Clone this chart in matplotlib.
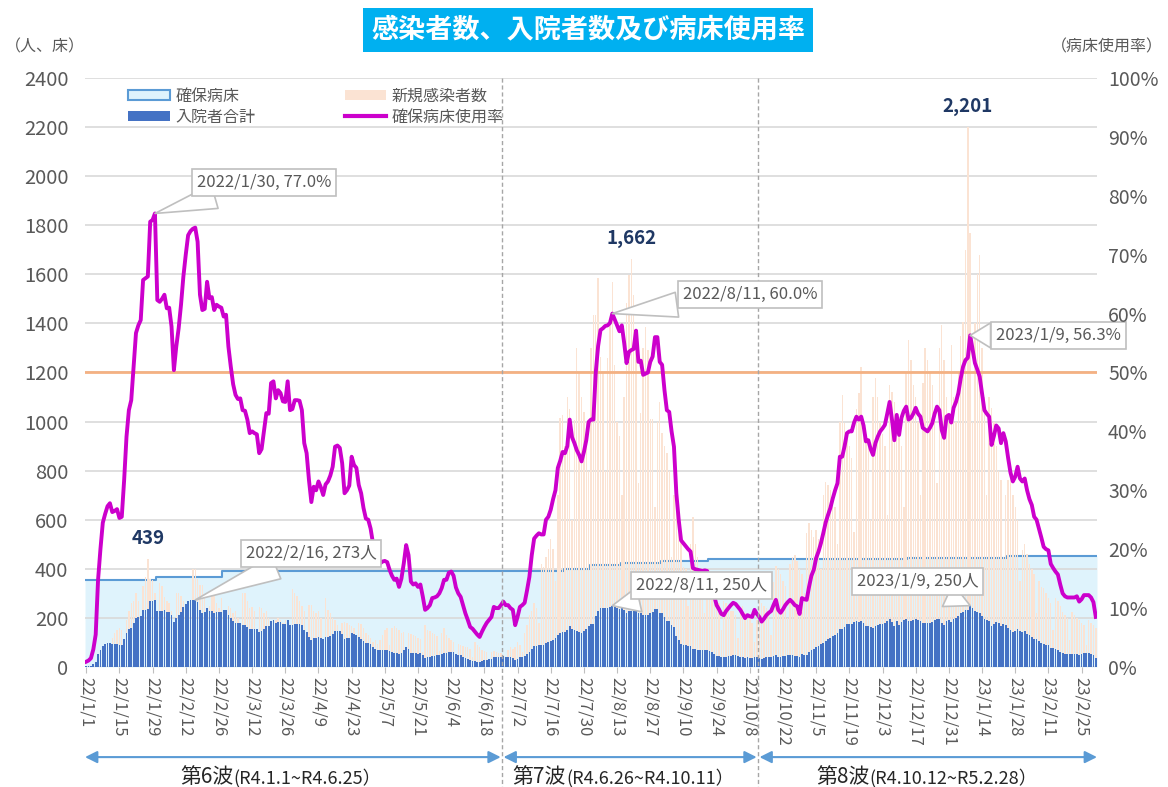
import numpy as np
import pandas as pd
import matplotlib
matplotlib.use("Agg")
import matplotlib.pyplot as plt
from matplotlib.patches import Patch
from matplotlib.lines import Line2D

plt.rcParams['font.family'] = ['Noto Sans CJK JP', 'DejaVu Sans']

START = "2022-01-01"

# 新規感染者数 (one row per week, Sat..Fri)
new_cases = [
    3, 2, 1, 5, 10, 20, 30,
    45, 40, 25, 80, 117, 140, 150,
    160, 151, 90, 190, 230, 260, 270,
    300, 270, 170, 330, 368, 439, 360,
    355, 300, 190, 341, 330, 287, 270,
    260, 230, 160, 300, 300, 290, 270,
    240, 220, 150, 398, 398, 360, 334,
    334, 290, 170, 250, 300, 290, 260,
    240, 280, 140, 230, 250, 240, 220,
    230, 200, 120, 300, 300, 270, 240,
    246, 230, 110, 246, 240, 220, 230,
    200, 180, 100, 191, 200, 190, 180,
    190, 180, 110, 316, 300, 290, 270,
    250, 230, 130, 252, 252, 230, 220,
    230, 200, 110, 280, 232, 220, 200,
    190, 170, 90, 180, 185, 180, 170,
    165, 160, 85, 181, 175, 160, 140,
    130, 120, 100, 110, 95, 110, 130,
    150, 160, 90, 160, 165, 160, 150,
    140, 144, 75, 140, 135, 130, 125,
    120, 115, 60, 171, 150, 145, 140,
    135, 125, 65, 140, 158, 130, 120,
    110, 100, 50, 95, 90, 85, 80,
    80, 75, 40, 103, 90, 80, 70,
    65, 60, 30, 60, 65, 60, 55,
    55, 50, 30, 70, 80, 75, 80,
    100, 90, 60, 137, 170, 212, 230,
    260, 240, 180, 420, 409, 450, 480,
    520, 480, 350, 700, 1013, 1027, 900,
    1100, 1050, 600, 1006, 1298, 1200, 1100,
    1040, 1000, 800, 1300, 1434, 1434, 1583,
    1264, 1200, 800, 1257, 1400, 1570, 1230,
    1000, 940, 700, 1100, 1482, 1597, 1662,
    1515, 1291, 750, 1033, 1300, 1387, 1291,
    1010, 1010, 650, 1000, 1081, 952, 900,
    870, 800, 450, 700, 680, 600, 545,
    409, 400, 250, 500, 612, 500, 450,
    395, 350, 220, 300, 341, 330, 300,
    280, 260, 150, 270, 260, 250, 230,
    230, 210, 120, 240, 250, 220, 200,
    200, 180, 100, 190, 273, 260, 250,
    240, 220, 130, 348, 410, 400, 380,
    350, 330, 200, 420, 450, 456, 430,
    400, 380, 300, 545, 585, 560, 531,
    560, 520, 400, 700, 755, 740, 720,
    700, 650, 500, 1000, 1108, 994, 950,
    900, 850, 550, 1050, 1117, 1224, 1000,
    950, 900, 600, 1100, 1177, 1100, 1000,
    950, 900, 620, 1150, 1122, 1080, 1000,
    950, 900, 650, 1200, 1332, 1250, 1150,
    1100, 1000, 700, 1157, 1299, 1250, 1200,
    1150, 1050, 750, 1300, 1393, 1250, 1100,
    1000, 1312, 1100, 1000, 1200, 1350, 1407,
    1700, 2201, 1768, 1000, 1400, 1600, 1678,
    1300, 1100, 700, 1100, 1055, 1000, 900,
    800, 762, 450, 700, 760, 782, 700,
    650, 600, 350, 477, 500, 460, 420,
    400, 380, 220, 350, 326, 320, 300,
    280, 260, 150, 280, 270, 250, 224,
    210, 200, 110, 224, 210, 200, 190,
    180, 170, 90, 190, 180, 170, 160,
]

# 確保病床使用率 (%)
bed_rate = [
    0.9, 1.1, 1.5, 3.0, 5.5, 14.8, 20.0,
    24.5, 26.0, 27.3, 27.8, 26.3, 26.5, 26.8,
    25.3, 25.5, 31.7, 39.1, 43.6, 45.3, 51.0,
    56.7, 58.0, 58.9, 65.7, 66.0, 66.3, 75.6,
    75.9, 77.0, 62.3, 62.0, 62.5, 63.2, 60.9,
    61.0, 57.8, 50.4, 54.4, 57.5, 61.5, 66.3,
    70.0, 73.3, 74.0, 74.4, 74.6, 72.2, 63.2,
    60.6, 60.8, 65.4, 62.6, 62.8, 60.6, 61.5,
    61.2, 61.0, 59.5, 59.8, 54.4, 51.0, 48.0,
    46.2, 45.5, 45.6, 43.6, 43.5, 42.0, 39.7,
    40.0, 39.7, 39.5, 36.3, 37.0, 40.0, 43.1,
    43.0, 48.2, 48.5, 45.6, 47.0, 46.5, 45.1,
    45.0, 48.5, 43.6, 43.8, 45.3, 45.3, 45.2,
    43.6, 38.0, 36.3, 31.7, 28.0, 30.6, 30.0,
    31.5, 30.5, 29.2, 31.0, 31.5, 32.5, 34.0,
    37.4, 37.6, 37.2, 34.6, 29.5, 30.0, 30.8,
    35.7, 34.3, 33.8, 30.9, 29.5, 27.0, 25.2,
    25.0, 23.5, 21.0, 18.5, 17.6, 17.6, 17.9,
    18.0, 17.8, 16.5, 15.5, 14.8, 15.0, 13.6,
    15.0, 17.6, 20.7, 19.0, 14.5, 14.0, 14.2,
    13.6, 14.0, 12.0, 9.7, 10.0, 10.5, 11.7,
    11.8, 12.0, 12.5, 13.4, 14.8, 14.8, 16.0,
    16.2, 15.5, 13.5, 12.5, 11.9, 10.5, 9.1,
    8.0, 6.8, 6.5, 6.0, 5.5, 5.1, 6.0,
    6.8, 7.5, 8.0, 8.5, 10.2, 10.0, 10.0,
    10.5, 11.1, 10.5, 10.5, 10.0, 9.7, 7.1,
    8.5, 10.2, 10.5, 10.9, 13.0, 15.3, 19.0,
    21.8, 22.3, 22.7, 22.5, 22.5, 25.0, 25.5,
    26.7, 28.5, 30.0, 33.8, 35.0, 36.5, 36.3,
    37.5, 42.0, 39.0, 38.0, 36.8, 36.0, 34.9,
    36.5, 38.5, 41.6, 42.0, 42.0, 50.0, 54.5,
    57.2, 57.5, 57.9, 58.0, 58.4, 60.0, 59.0,
    58.0, 57.0, 58.0, 55.0, 51.6, 53.5, 53.8,
    54.0, 57.1, 51.8, 52.0, 49.6, 49.8, 50.0,
    51.8, 52.7, 56.0, 56.0, 51.8, 51.3, 47.0,
    43.6, 43.3, 40.0, 37.4, 29.5, 25.0, 21.5,
    21.0, 20.5, 20.0, 19.6, 16.8, 16.6, 16.5,
    16.4, 16.3, 16.4, 16.3, 15.0, 13.6, 12.0,
    10.5, 9.8, 9.0, 8.8, 9.5, 10.0, 10.5,
    10.9, 10.7, 10.2, 9.7, 9.0, 8.3, 8.8,
    8.6, 8.5, 9.7, 9.0, 8.5, 7.7, 8.2,
    8.8, 9.2, 9.5, 10.5, 11.4, 9.7, 9.2,
    9.8, 10.5, 11.0, 11.4, 11.0, 10.5, 10.3,
    9.0, 11.7, 11.5, 11.4, 13.6, 15.5, 16.5,
    18.5, 19.6, 21.0, 22.7, 24.5, 25.8, 27.0,
    28.6, 30.0, 31.2, 35.7, 35.7, 37.5, 39.7,
    40.0, 40.0, 41.5, 42.5, 42.0, 42.5, 41.0,
    38.3, 38.5, 37.0, 36.0, 38.0, 39.1, 40.0,
    40.5, 41.1, 43.0, 45.0, 42.0, 38.5, 42.8,
    39.4, 42.3, 43.5, 44.2, 42.0, 42.3, 43.0,
    44.0, 43.0, 42.5, 40.6, 40.3, 40.0, 40.6,
    41.4, 43.0, 44.2, 43.6, 40.2, 38.9, 42.5,
    42.8, 41.5, 44.0, 45.0, 46.5, 49.0, 51.0,
    52.1, 52.5, 56.3, 54.0, 51.6, 50.5, 49.3,
    46.5, 43.6, 43.0, 42.5, 37.7, 39.2, 41.0,
    40.5, 38.0, 39.7, 38.3, 35.5, 33.0, 31.5,
    32.3, 34.0, 32.0, 31.5, 32.0, 30.0, 28.5,
    27.5, 25.5, 25.0, 23.5, 22.0, 20.4, 20.0,
    19.8, 17.5, 16.8, 16.2, 15.7, 14.0, 12.5,
    12.0, 11.8, 11.8, 11.8, 11.8, 12.0, 11.1,
    11.5, 12.2, 12.2, 12.2, 11.8, 11.0, 8.5,
]

# 確保病床 (changes)
bed_change_dates = ["2022-01-01", "2022-01-31", "2022-02-28", "2022-07-22", "2022-08-02",
                    "2022-08-15", "2022-09-01", "2022-09-21", "2022-12-14", "2023-01-25"]
bed_counts = [354, 366, 391, 398, 417, 424, 433, 438, 444, 452]

wave_names = ["第6波", "第7波", "第8波"]
wave_periods = ["(R4.1.1~R4.6.25）", "(R4.6.26~R4.10.11）", "(R4.10.12~R5.2.28）"]
wave_last_days = ["2022-06-25", "2022-10-11"]

callout_dates = ["2022-01-30", "2022-02-16", "2022-08-11", "2022-08-11", "2023-01-09", "2023-01-09"]
callout_kind = ["rate", "inp", "rate", "inp", "rate", "inp"]

# ---- derived series ----
N = len(new_cases)
assert len(bed_rate) == N
dates = pd.date_range(START, periods=N, freq="D")
days = np.arange(N)
beds = pd.Series(np.nan, index=dates)
beds[pd.to_datetime(bed_change_dates)] = bed_counts
beds = beds.ffill().to_numpy()
rate = np.array(bed_rate)
inpatients = np.round(rate * beds / 100)
cases = np.array(new_cases)

def day_of(s):
    return (pd.Timestamp(s) - dates[0]).days

GRAY = '#595959'
fig = plt.figure(figsize=(11.68, 7.87), dpi=100)
ax = fig.add_axes([0.0728, 0.1525, 0.8664, 0.7484])
ax.set_xlim(-0.5, N - 0.5)
ax.set_ylim(0, 2400)

# bed area (line drawn under the case bars, as in the source)
xe = np.arange(N + 1) - 0.5
ye = np.r_[beds, beds[-1]]
ax.fill_between(xe, ye, step='post', color='#DFF3FC', lw=0, zorder=1)
for v in range(0, 2401, 200):
    ax.axhline(v, color='#D9D9D9', lw=1.2, zorder=1.5)
ax.step(xe, ye, where='post', color='#5B9BD5', lw=1.5, zorder=1.8)
ax.bar(days, cases, width=0.6, color='#FBE3D3', zorder=2)
ax.bar(days, inpatients, width=0.75, color='#4472C4', zorder=3)
ax.axhline(1200, color='#F4B183', lw=2, zorder=3.5)
ax.plot(days, rate * 24, color='#CC00CC', lw=2.8, zorder=4, solid_joinstyle='round')

# wave boundaries
bounds = [day_of(d) + 0.5 for d in wave_last_days]
for b in bounds:
    ax.plot([b, b], [1.0, -0.205], transform=ax.get_xaxis_transform(), clip_on=False,
            color='#A6A6A6', lw=1, ls=(0, (3, 2)), zorder=4.5)

# axes styling
for sp in ax.spines.values():
    sp.set_visible(False)
ax.set_yticks(range(0, 2401, 200))
ax.tick_params(axis='y', length=0, labelsize=14.5, labelcolor=GRAY, pad=12)
ticks = list(range(0, N, 14))
ax.set_xticks(ticks)
ax.set_xticklabels([f"{dates[t].year % 100}/{dates[t].month}/{dates[t].day}" for t in ticks],
                   rotation=270, fontsize=12, color=GRAY)
ax.tick_params(axis='x', length=4, color='#BFBFBF', pad=3)

ax2 = ax.twinx()
ax2.set_ylim(0, 100)
ax2.set_yticks(range(0, 101, 10))
ax2.set_yticklabels([f"{v}%" for v in range(0, 101, 10)])
ax2.tick_params(axis='y', length=0, labelsize=14, labelcolor=GRAY, pad=8)
for sp in ax2.spines.values():
    sp.set_visible(False)

# legend
handles = [
    Patch(facecolor='#DFF3FC', edgecolor='#5B9BD5', lw=1.5, label='確保病床'),
    Patch(facecolor='#4472C4', label='入院者合計'),
    Patch(facecolor='#FBE3D3', label='新規感染者数'),
    Line2D([], [], color='#CC00CC', lw=3, label='確保病床使用率'),
]
ax.legend(handles=handles, ncol=2, loc='upper left', bbox_to_anchor=(0.033, 1.0), frameon=False,
          fontsize=11.5, labelcolor=GRAY, handlelength=2.6, handleheight=0.55, handletextpad=0.35,
          columnspacing=5.6, labelspacing=0.25, borderaxespad=0.2)

# peak labels per wave
seg_edges = [0] + [int(np.ceil(b)) for b in bounds] + [N]
for a, b in zip(seg_edges[:-1], seg_edges[1:]):
    i = a + int(np.argmax(cases[a:b]))
    ax.annotate(f"{cases[i]:,}", xy=(i, cases[i]), xytext=(0, 8), textcoords='offset points',
                ha='center', va='bottom', fontsize=13.5, fontweight='bold', color='#1F3864', zorder=6)

# callouts
box_pos = [(75, 1975), (94.8, 464), (280, 1517), (259.7, 332), (410.3, 1351), (350.7, 350)]
for d, kind, pos in zip(callout_dates, callout_kind, box_pos):
    t = pd.Timestamp(d)
    i = day_of(d)
    if kind == "rate":
        txt = f"{t.year}/{t.month}/{t.day}, {rate[i]:.1f}%"
        yv = rate[i] * 24
    else:
        txt = f"{t.year}/{t.month}/{t.day}, {int(inpatients[i])}人"
        yv = inpatients[i]
    ax.annotate(txt, xy=(i, yv), xytext=pos, ha='center', va='center', fontsize=12, color=GRAY,
                bbox=dict(boxstyle='square,pad=0.3', fc='white', ec='#BFBFBF', lw=1.2),
                arrowprops=dict(arrowstyle='wedge,tail_width=0.9', fc='white', ec='#BFBFBF',
                                lw=1.2, shrinkA=0, shrinkB=0, mutation_scale=20),
                zorder=7)

# wave arrows and labels
spans = [(-0.5, bounds[0] - 0.6), (bounds[0] + 0.6, bounds[1] - 0.6), (bounds[1] + 0.6, N - 0.5)]
split_x = [62.0, 202.5, 330.5]
for (s, e), name, per, sx in zip(spans, wave_names, wave_periods, split_x):
    ax.annotate('', xy=(e, -0.153), xytext=(s, -0.153), xycoords=ax.get_xaxis_transform(),
                arrowprops=dict(arrowstyle='<|-|>', color='#5B9BD5', lw=1.5, mutation_scale=18,
                                shrinkA=0, shrinkB=0), annotation_clip=False)
    ax.text(sx, -0.197, name, transform=ax.get_xaxis_transform(), ha='right', va='baseline',
            fontsize=15, color='#262626')
    ax.text(sx, -0.197, per, transform=ax.get_xaxis_transform(), ha='left', va='baseline',
            fontsize=13, color='#262626')

# title and unit labels
fig.text(0.5034, 0.962, '感染者数、入院者数及び病床使用率', ha='center', va='center', fontsize=19.5,
         color='white', fontweight='bold',
         bbox=dict(boxstyle='square,pad=0.3', fc='#00B0F0', ec='none'))
fig.text(0.004, 0.94, '（人、床）', ha='left', va='center', fontsize=11.5, color=GRAY)
fig.text(0.996, 0.94, '（病床使用率）', ha='right', va='center', fontsize=11.5, color=GRAY)

fig.savefig("out.png", dpi=100, facecolor='white')
